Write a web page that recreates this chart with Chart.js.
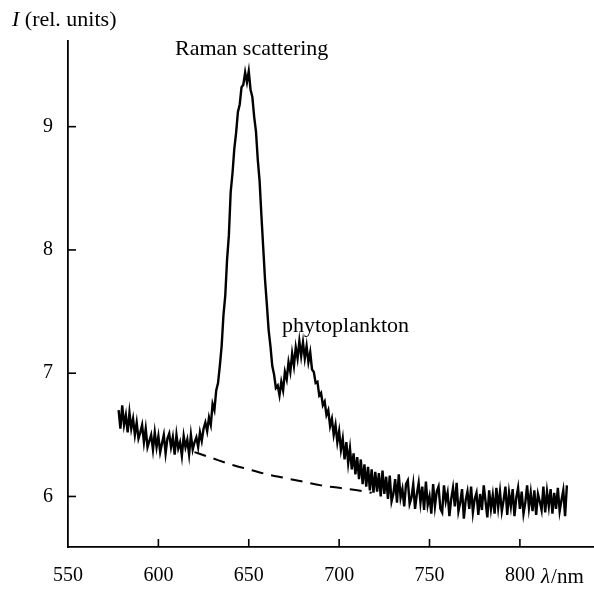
<!DOCTYPE html>
<html>
<head>
<meta charset="utf-8">
<script src="https://cdn.jsdelivr.net/npm/chart.js@4.4.0/dist/chart.umd.min.js"></script>
<style>
  html, body { margin: 0; padding: 0; background: #fff; }
</style>
</head>
<body>
<canvas id="spectrumChart" width="594" height="590"></canvas>
<script>
// spectrum sampled every 1 nm starting at 578 nm
const lambdaStart = 578;
const intensity = [
  6.70, 6.55, 6.74, 6.58, 6.66, 6.52, 6.68, 6.55, 6.63, 6.50,
  6.60, 6.47, 6.52, 6.58, 6.44, 6.55, 6.40, 6.45, 6.50, 6.38,
  6.52, 6.40, 6.49, 6.36, 6.43, 6.50, 6.35, 6.47, 6.51, 6.40,
  6.48, 6.34, 6.50, 6.39, 6.44, 6.33, 6.49, 6.40, 6.46, 6.34,
  6.50, 6.38, 6.44, 6.48, 6.40, 6.52, 6.45, 6.55, 6.60, 6.53,
  6.64, 6.58, 6.75, 6.70, 6.86, 6.92, 7.06, 7.22, 7.47, 7.63,
  7.92, 8.12, 8.47, 8.62, 8.82, 8.95, 9.12, 9.18, 9.32, 9.34,
  9.44, 9.36, 9.45, 9.30, 9.24, 9.08, 8.96, 8.73, 8.56, 8.28,
  8.02, 7.76, 7.56, 7.35, 7.22, 7.06, 6.99, 6.88, 6.90, 6.82,
  6.93, 6.86, 7.01, 6.95, 7.09, 7.01, 7.16, 7.06, 7.21, 7.12,
  7.26, 7.14, 7.25, 7.12, 7.22, 7.09, 7.17, 7.03, 7.01, 6.92,
  6.93, 6.82, 6.84, 6.74, 6.77, 6.66, 6.70, 6.57, 6.63, 6.50,
  6.58, 6.44, 6.53, 6.38, 6.47, 6.30, 6.44, 6.27, 6.39, 6.22,
  6.35, 6.18, 6.32, 6.14, 6.30, 6.10, 6.26, 6.08, 6.24, 6.05,
  6.22, 6.03, 6.20, 6.04, 6.19, 6.00, 6.21, 6.02, 6.16, 5.98,
  6.17, 5.96, 6.02, 6.14, 5.95, 6.18, 5.99, 6.06, 5.92, 6.10,
  6.13, 5.94, 5.99, 6.10, 5.90, 6.02, 6.11, 5.95, 6.08, 5.89,
  6.12, 5.93, 6.00, 5.86, 6.10, 5.92, 6.04, 6.08, 5.90, 5.87,
  6.09, 5.96, 6.03, 5.84, 5.98, 6.07, 5.92, 6.11, 5.88, 5.95,
  6.06, 5.82, 5.97, 6.04, 5.90, 6.08, 5.87, 5.98, 6.03, 5.85,
  6.02, 5.89, 6.09, 5.96, 5.83, 6.05, 5.90, 6.01, 5.86, 6.07,
  5.91, 6.04, 5.88, 5.97, 6.08, 5.85, 6.03, 5.92, 6.06, 5.84,
  5.99, 6.07, 5.90, 6.04, 5.86, 5.95, 6.09, 5.91, 6.03, 5.88,
  6.05, 5.85, 6.02, 5.96, 5.89, 6.08, 5.87, 6.04, 5.92, 6.06,
  5.86, 6.03, 5.90, 6.07, 5.88, 5.97, 6.05, 5.84, 6.09
];

// dashed background (fluorescence baseline)
const baseLambda = [620, 630, 640, 650, 660, 670, 680, 690, 700, 710, 718];
const baseValue  = [6.36, 6.31, 6.26, 6.22, 6.18, 6.15, 6.12, 6.09, 6.07, 6.05, 6.03];

const xTicks = [550, 600, 650, 700, 750, 800];
const yTicks = [6, 7, 8, 9];

const serif = '"Liberation Serif", "DejaVu Serif", serif';

const spectrumPoints = intensity.map((v, i) => ({ x: lambdaStart + i, y: v }));
const basePoints = baseLambda.map((x, i) => ({ x: x, y: baseValue[i] }));

// inward ticks + text labels
const decorPlugin = {
    id: 'decor',
    afterDraw(chart) {
        const ctx = chart.ctx;
        const xs = chart.scales.x, ys = chart.scales.y;
        const area = chart.chartArea;
        ctx.save();
        ctx.strokeStyle = '#000';
        ctx.lineWidth = 1.6;
        xTicks.forEach((t) => {
            if (t === xs.min) return;
            const px = xs.getPixelForValue(t);
            ctx.beginPath();
            ctx.moveTo(px, area.bottom);
            ctx.lineTo(px, area.bottom - 8);
            ctx.stroke();
        });
        yTicks.forEach((t) => {
            const py = ys.getPixelForValue(t);
            ctx.beginPath();
            ctx.moveTo(area.left, py);
            ctx.lineTo(area.left + 8, py);
            ctx.stroke();
        });

        ctx.fillStyle = '#000';
        ctx.textBaseline = 'alphabetic';
        ctx.textAlign = 'left';
        // y axis title
        ctx.font = 'italic 22px ' + serif;
        ctx.fillText('I', 12, 26);
        let w = ctx.measureText('I ').width;
        ctx.font = '22px ' + serif;
        ctx.fillText('(rel. units)', 12 + w, 26);
        // x axis title
        ctx.font = 'italic 21px ' + serif;
        ctx.fillText('\u03bb', 541, 583);
        w = ctx.measureText('\u03bb').width;
        ctx.font = '21px ' + serif;
        ctx.fillText('/nm', 541 + w + 1, 583);
        // annotations
        ctx.font = '22px ' + serif;
        ctx.fillText('Raman scattering', 175, 55);
        ctx.fillText('phytoplankton', 282, 332);
        ctx.restore();
    }
};

const ctx = document.getElementById('spectrumChart').getContext('2d');
const spectrumChart = new Chart(ctx, {
    type: 'line',
    data: {
        datasets: [{
            label: 'spectrum',
            data: spectrumPoints,
            borderColor: '#000',
            borderWidth: 2.4,
            pointRadius: 0,
            tension: 0,
        }, {
            label: 'baseline',
            data: basePoints,
            borderColor: '#000',
            borderWidth: 2,
            borderDash: [12, 8],
            pointRadius: 0,
            cubicInterpolationMode: 'monotone',
        }],
    },
    options: {
        responsive: false,
        animation: false,
        layout: { padding: { top: 41, right: 0, left: 0, bottom: 0 } },
        plugins: {
            legend: { display: false },
            tooltip: { enabled: false },
        },
        scales: {
            x: {
                type: 'linear',
                min: 550,
                max: 841,
                afterBuildTicks: (s) => { s.ticks = xTicks.map((v) => ({ value: v })); },
                afterFit: (s) => { s.height = 43; },
                grid: { display: false, drawTicks: false },
                border: { display: true, color: '#000', width: 1.8 },
                ticks: {
                    color: '#000',
                    padding: 17,
                    maxRotation: 0,
                    autoSkip: false,
                    font: { family: serif, size: 20 },
                },
            },
            y: {
                type: 'linear',
                min: 5.59,
                max: 9.695,
                afterBuildTicks: (s) => { s.ticks = yTicks.map((v) => ({ value: v })); },
                afterFit: (s) => { s.width = 68; },
                grid: { display: false, drawTicks: false },
                border: { display: true, color: '#000', width: 1.8 },
                ticks: {
                    color: '#000',
                    padding: 15,
                    font: { family: serif, size: 20 },
                },
            },
        },
    },
    plugins: [decorPlugin],
});
</script>
</body>
</html>
